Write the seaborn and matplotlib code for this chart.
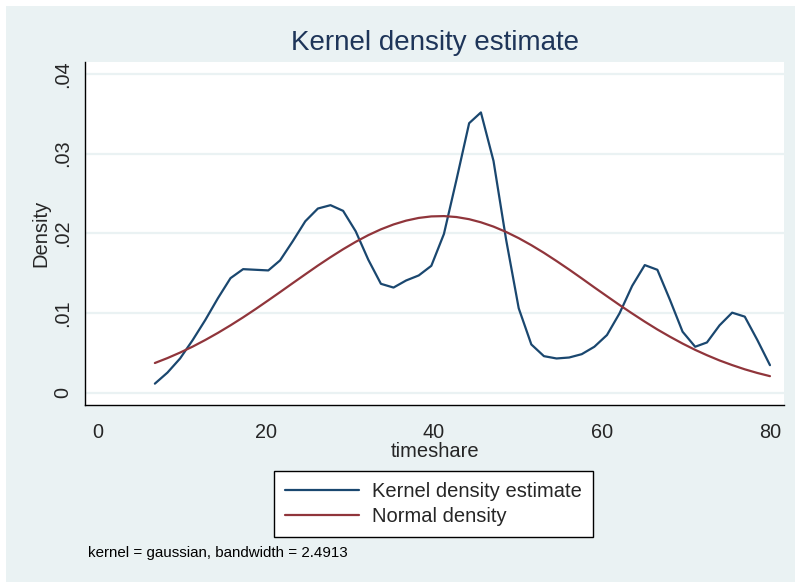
import matplotlib
matplotlib.use('Agg')
import matplotlib.pyplot as plt
import seaborn as sns
import pandas as pd

# evaluation grid (50 points)
timeshare = [6.8, 8.3, 9.8, 11.3, 12.8, 14.3, 15.8, 17.3, 18.8, 20.3,
             21.7, 23.2, 24.7, 26.2, 27.7, 29.2, 30.7, 32.2, 33.7, 35.2,
             36.7, 38.2, 39.7, 41.2, 42.7, 44.2, 45.6, 47.1, 48.6, 50.1,
             51.6, 53.1, 54.6, 56.1, 57.6, 59.1, 60.6, 62.1, 63.6, 65.1,
             66.6, 68.1, 69.6, 71.1, 72.5, 74.0, 75.5, 77.0, 78.5, 80.0]

kde_density = [0.00113, 0.00252, 0.00429, 0.00660, 0.00912, 0.01185, 0.01437, 0.01550, 0.01542, 0.01534,
               0.01660, 0.01899, 0.02151, 0.02311, 0.02353, 0.02282, 0.02025, 0.01668, 0.01366, 0.01319,
               0.01408, 0.01471, 0.01592, 0.01992, 0.02676, 0.03382, 0.03517, 0.02908, 0.01920, 0.01059,
               0.00605, 0.00458, 0.00429, 0.00441, 0.00483, 0.00576, 0.00723, 0.00996, 0.01340, 0.01601,
               0.01542, 0.01164, 0.00765, 0.00576, 0.00630, 0.00845, 0.01004, 0.00954, 0.00660, 0.00345]

normal_density = [0.00372, 0.00434, 0.00503, 0.00578, 0.00661, 0.00750, 0.00845, 0.00945, 0.01050, 0.01159,
                  0.01262, 0.01374, 0.01485, 0.01595, 0.01700, 0.01800, 0.01893, 0.01977, 0.02050, 0.02111,
                  0.02159, 0.02193, 0.02212, 0.02216, 0.02204, 0.02177, 0.02138, 0.02084, 0.02017, 0.01939,
                  0.01851, 0.01755, 0.01652, 0.01545, 0.01434, 0.01321, 0.01210, 0.01100, 0.00994, 0.00891,
                  0.00793, 0.00702, 0.00616, 0.00537, 0.00470, 0.00404, 0.00346, 0.00293, 0.00247, 0.00207]

series_names = ['Kernel density estimate', 'Normal density']
x_ticks = [0, 20, 40, 60, 80]
y_ticks = [0, 0.01, 0.02, 0.03, 0.04]
y_tick_labels = ['0', '.01', '.02', '.03', '.04']

BG = '#EAF2F3'
NAVY = '#1A476F'
MAROON = '#90353B'

df = pd.concat([
    pd.DataFrame({'timeshare': timeshare, 'density': kde_density, 'series': series_names[0]}),
    pd.DataFrame({'timeshare': timeshare, 'density': normal_density, 'series': series_names[1]}),
])

sns.set_style('white')
plt.rcParams['font.family'] = ['Liberation Sans', 'DejaVu Sans']

fig = plt.figure(figsize=(7.95, 5.82), dpi=100)
fig.patch.set_facecolor('white')
# stata-like graph region, leaving a thin white frame
fig.add_artist(plt.Rectangle((6 / 795, 0), 1, 1 - 6 / 582, transform=fig.transFigure,
                             facecolor=BG, edgecolor='none', zorder=0))

ax = fig.add_axes([85.3 / 795, 1 - 405 / 582, (784 - 85.3) / 795, (405 - 62) / 582])
ax.set_facecolor('white')

sns.lineplot(data=df, x='timeshare', y='density', hue='series',
             palette=[NAVY, MAROON], linewidth=1.6, ax=ax, legend=False)

ax.set_xlim(-1.48, 81.67)
ax.set_ylim(-0.00155, 0.0415)
ax.set_xticks(x_ticks)
ax.set_yticks(y_ticks)
ax.set_yticklabels(y_tick_labels, rotation=90, va='center')
ax.yaxis.grid(True, color=BG, linewidth=1.6)
ax.xaxis.grid(False)
for s in ['top', 'right']:
    ax.spines[s].set_visible(False)
for s in ['left', 'bottom']:
    ax.spines[s].set_color('black')
    ax.spines[s].set_linewidth(1.0)
ax.tick_params(axis='x', direction='out', length=8, width=1, color='black',
               labelsize=14.3, pad=5)
ax.tick_params(axis='y', direction='out', length=8, width=1, color='#777777',
               labelsize=14.3, pad=1.5)

ax.set_xlabel('timeshare', fontsize=14.5, labelpad=0)
ax.set_ylabel('Density', fontsize=14.5, labelpad=2)
fig.text(435 / 795, 1 - 43 / 582, 'Kernel density estimate', ha='center', va='center',
         fontsize=20, color='#1E3559')

# legend box drawn as in the original
handles = [plt.Line2D([], [], color=NAVY, linewidth=1.6),
           plt.Line2D([], [], color=MAROON, linewidth=1.6)]
leg = fig.legend(handles, series_names, loc='center', bbox_to_anchor=(433.5 / 795, 1 - 504 / 582),
                 frameon=True, fancybox=False, framealpha=1, fontsize=14.5, handlelength=3.7,
                 handletextpad=0.65, borderpad=0.55, labelspacing=0.3)
leg.get_frame().set_facecolor('white')
leg.get_frame().set_edgecolor('black')
leg.get_frame().set_linewidth(1.0)

fig.text(88 / 795, 1 - 553 / 582, 'kernel = gaussian, bandwidth = 2.4913', ha='left', va='center',
         fontsize=10.9, color='black')

fig.savefig('out.png', dpi=100, facecolor=fig.get_facecolor())
